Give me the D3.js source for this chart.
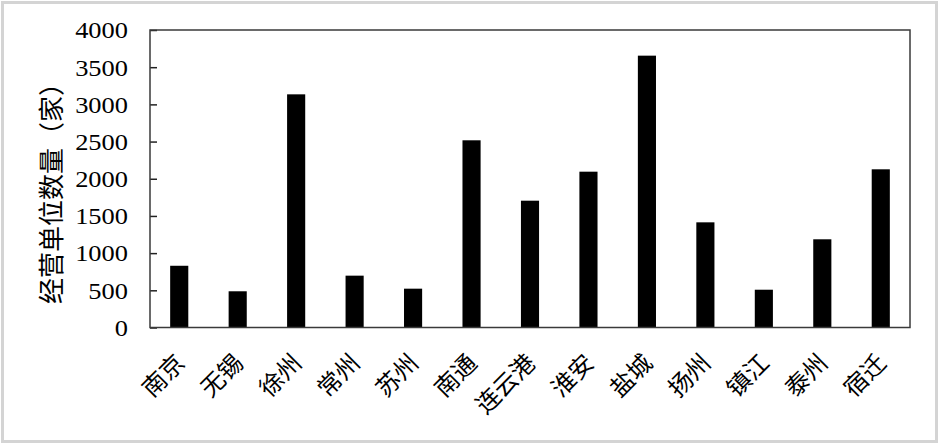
<!DOCTYPE html>
<html><head><meta charset="utf-8">
<script src="https://cdn.jsdelivr.net/npm/d3@7"></script>
<style>
html,body{margin:0;padding:0;background:#fff;}
svg{display:block;}
</style></head>
<body>
<svg id="chart" width="941" height="446"></svg>
<script>
const categories = ["南京","无锡","徐州","常州","苏州","南通","连云港","淮安","盐城","扬州","镇江","泰州","宿迁"];
const values = [830, 487, 3135, 697, 522, 2517, 1705, 2095, 3655, 1414, 508, 1186, 2127];
const yTicks = [0, 500, 1000, 1500, 2000, 2500, 3000, 3500, 4000];
const yTitle = "经营单位数量（家）";

const svg = d3.select("#chart");
const W = 941, H = 446;
const m = {left:150, top:30, right:31, bottom:118.5};
const iw = W - m.left - m.right, ih = H - m.top - m.bottom;

// outer border
svg.append("rect").attr("x",2.5).attr("y",2.5).attr("width",934).attr("height",439)
  .attr("fill","#fff").attr("stroke","#d4d4d4").attr("stroke-width",3);

const g = svg.append("g").attr("transform",`translate(${m.left},${m.top})`);

const x = d3.scaleBand().domain(categories).range([0, iw]).paddingInner(0.69).paddingOuter(0.345);
const y = d3.scaleLinear().domain([0, 4000]).range([ih, 0]);

// bars
g.selectAll("rect.bar").data(values).join("rect").attr("class","bar")
  .attr("x",(d,i)=>x(categories[i]))
  .attr("y",d=>y(d))
  .attr("width",x.bandwidth())
  .attr("height",d=>ih - y(d))
  .attr("fill","#000");

// y axis with inward ticks
const ya = g.append("g").call(d3.axisLeft(y).tickValues(yTicks).tickFormat(d3.format("d")).tickSize(-7).tickPadding(22).tickSizeOuter(0));
ya.select(".domain").remove();
ya.selectAll(".tick line").attr("stroke","#222").attr("stroke-width",1.5);
ya.selectAll(".tick text")
  .attr("font-family","'Liberation Serif','Times New Roman',serif")
  .attr("font-size",23).attr("fill","#000")
  .attr("x",0).attr("dy","0.34em")
  .attr("transform","translate(-22,0) scale(1.15,1)");

// frame
g.append("rect").attr("x",0).attr("y",0).attr("width",iw).attr("height",ih)
  .attr("fill","none").attr("stroke","#3a3a3a").attr("stroke-width",1.5);

// x labels rotated
const xa = g.append("g").attr("transform",`translate(0,${ih})`);
categories.forEach((c,i)=>{
  const cx = x(c) + x.bandwidth()/2;
  xa.append("text")
    .attr("transform",`translate(${cx+1},${31}) rotate(-45)`)
    .attr("text-anchor","end").attr("dy","0.35em")
    .attr("font-family","'Noto Sans CJK SC','Noto Sans CJK JP',serif")
    .attr("font-size",24).attr("fill","#000")
    .text(c);
});

// y title
svg.append("text")
  .attr("transform",`translate(52,${187}) rotate(-90)`)
  .attr("text-anchor","middle").attr("dy","0.35em")
  .attr("font-family","'Noto Sans CJK SC','Noto Sans CJK JP',serif")
  .attr("font-size",26).attr("fill","#000")
  .text(yTitle);
</script>
</body></html>
